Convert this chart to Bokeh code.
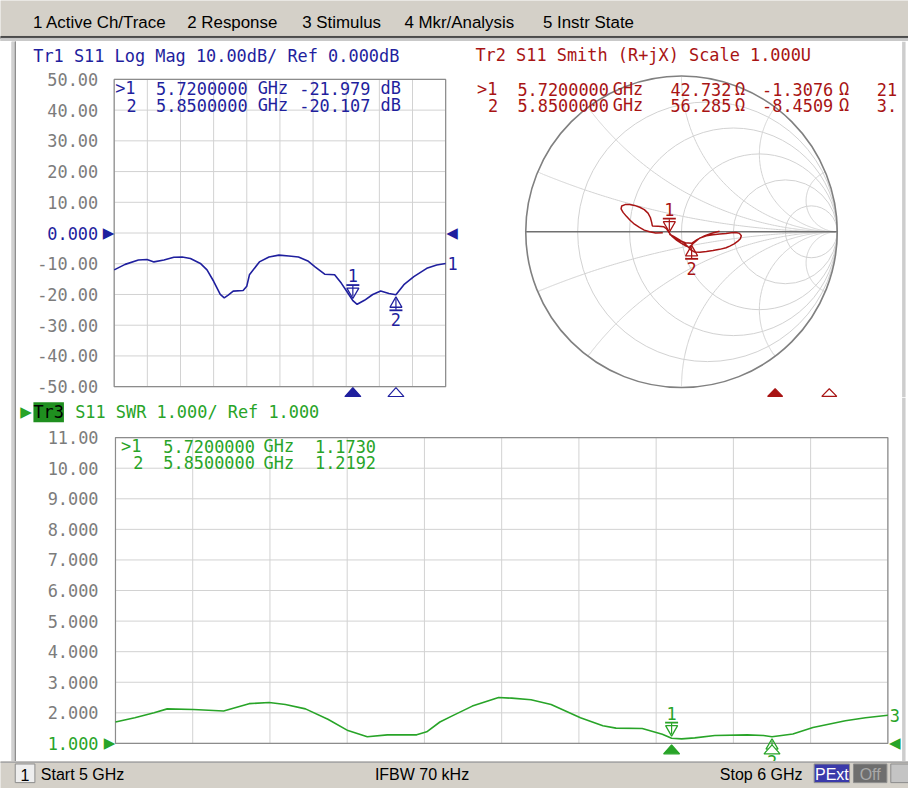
import numpy as np
from bokeh.plotting import figure
from bokeh.models import Range1d, Label
from bokeh.core.properties import value
from bokeh.layouts import column, row
from bokeh.embed import file_html
from bokeh.resources import INLINE

# ---------------- data ----------------
freq_ticks = [5.0, 5.1, 5.2, 5.3, 5.4, 5.5, 5.6, 5.7, 5.8, 5.9, 6.0]
db_ticks = [50, 40, 30, 20, 10, 0, -10, -20, -30, -40, -50]
db_tick_labels = ["50.00", "40.00", "30.00", "20.00", "10.00", "0.000",
                  "-10.00", "-20.00", "-30.00", "-40.00", "-50.00"]
db_ref = 0
swr_ticks = [11, 10, 9, 8, 7, 6, 5, 4, 3, 2, 1]
swr_tick_labels = ["11.00", "10.00", "9.000", "8.000", "7.000", "6.000",
                   "5.000", "4.000", "3.000", "2.000", "1.000"]
swr_ref = 1

freq_db = [5.000, 5.033, 5.073, 5.099, 5.120, 5.150, 5.180, 5.205, 5.230, 5.260,
           5.280, 5.300, 5.320, 5.332, 5.344, 5.359, 5.389, 5.400, 5.408, 5.438,
           5.467, 5.497, 5.527, 5.556, 5.586, 5.606, 5.635, 5.665, 5.685, 5.705,
           5.720, 5.733, 5.755, 5.780, 5.804, 5.829, 5.850, 5.874, 5.904, 5.943,
           5.973, 6.000]
s11_db = [-12.0, -10.2, -8.8, -8.6, -9.4, -8.8, -7.9, -7.8, -8.3, -9.9,
          -12.0, -15.7, -20.0, -21.1, -20.2, -18.9, -18.7, -17.3, -13.6, -9.4,
          -7.8, -7.2, -7.5, -7.8, -9.2, -11.0, -13.4, -13.6, -16.3, -19.5,
          -21.98, -23.2, -21.9, -20.0, -18.9, -19.7, -20.1, -16.8, -14.2, -11.5,
          -10.4, -9.9]

freq_swr = [5.000, 5.025, 5.050, 5.067, 5.101, 5.140, 5.173, 5.199, 5.220, 5.246,
            5.275, 5.301, 5.326, 5.352, 5.390, 5.403, 5.420, 5.436, 5.462, 5.496,
            5.513, 5.538, 5.564, 5.602, 5.631, 5.648, 5.682, 5.708, 5.720, 5.733,
            5.750, 5.776, 5.818, 5.839, 5.850, 5.877, 5.903, 5.945, 5.971, 6.000]
swr = [1.70, 1.84, 2.00, 2.13, 2.11, 2.06, 2.30, 2.34, 2.27, 2.13,
       1.79, 1.42, 1.22, 1.28, 1.28, 1.38, 1.70, 1.90, 2.22, 2.50,
       2.48, 2.43, 2.27, 1.84, 1.58, 1.50, 1.49, 1.30, 1.17, 1.15,
       1.18, 1.26, 1.28, 1.26, 1.22, 1.31, 1.52, 1.74, 1.84, 1.92]

smith_re = [-0.120, -0.166, -0.205, -0.239, -0.270, -0.302, -0.330, -0.355, -0.375, -0.388,
            -0.384, -0.362, -0.332, -0.302, -0.268, -0.239, -0.215, -0.200, -0.192, -0.187,
            -0.150, -0.113, -0.095, -0.080, -0.060, -0.030, 0.000, 0.030, 0.050,
            0.075, 0.118, 0.160, 0.202, 0.245, 0.286, 0.320, 0.350, 0.372, 0.384,
            0.378, 0.362, 0.338, 0.310, 0.286, 0.245, 0.202, 0.160, 0.118, 0.085,
            0.062, 0.045, 0.020, -0.015, -0.050, -0.078, -0.045, -0.010, 0.025, 0.065,
            0.100, 0.150, 0.200, 0.244]
smith_im = [-0.006, -0.008, 0.000, 0.011, 0.028, 0.049, 0.074, 0.101, 0.125, 0.148,
            0.166, 0.175, 0.176, 0.170, 0.158, 0.143, 0.120, 0.092, 0.062, 0.038,
            0.035, 0.032, 0.018, -0.005, -0.030, -0.055, -0.075, -0.092, -0.100,
            -0.075, -0.040, -0.026, -0.019, -0.014, -0.011, -0.006, -0.004, -0.010, -0.025,
            -0.045, -0.060, -0.078, -0.092, -0.103, -0.113, -0.121, -0.127, -0.131, -0.130,
            -0.118, -0.100, -0.075, -0.050, -0.030, -0.015, -0.038, -0.058, -0.070, -0.074,
            -0.050, -0.025, -0.008, 0.004]

marker_names = [">1", "2"]
marker_freq = [5.72, 5.85]
marker_db = [-21.979, -20.107]
marker_swr = [1.1730, 1.2192]
marker_r_ohm = [42.732, 56.285]
marker_x_ohm = [-1.3076, -8.4509]
smith_cut_col = ["21", "3."]
z0 = 50.0

smith_r_grid = [0.2, 0.5, 1.0, 2.0, 5.0]
smith_x_grid = [0.2, 0.5, 1.0, 2.0, 5.0]

menu_items = ["1 Active Ch/Trace", "2 Response", "3 Stimulus", "4 Mkr/Analysis", "5 Instr State"]

# ---------------- style ----------------
MONO = "DejaVu Sans Mono"
SYM = "DejaVu Sans"
UI = "Liberation Sans"
FS = 16.9
BLUE = "#1f1f9e"
RED = "#a81414"
GREEN = "#28a428"
GRAYTXT = "#7c7c7c"
GRID = "#d2d2d2"
FRAME = "#8c8c8c"
UIBG = "#d4d0c8"

# reference-picture pixels -> layout pixels
SX, SY = 908 / 924, 788 / 804


def LX(x):
    return x * SX


def LY(y):
    return y * SY


def mapped(x0, y0, w, h, box, xlim, ylim):
    """Ranges so that xlim/ylim land on the reference box (left, right, top, bottom)."""
    bl, br = LX(box[0]) - x0, LX(box[1]) - x0
    bt, bb = LY(box[2]) - y0, LY(box[3]) - y0
    kx = (xlim[1] - xlim[0]) / (br - bl)
    ky = (ylim[1] - ylim[0]) / (bb - bt)
    return (Range1d(xlim[0] - bl * kx, xlim[1] + (w - br) * kx),
            Range1d(ylim[0] - (h - bb) * ky, ylim[1] + bt * ky))


def make_fig(w, h, xr, yr, bg="white"):
    p = figure(width=w, height=h, x_range=xr, y_range=yr, title=None,
               output_backend="svg", toolbar_location=None,
               x_axis_location=None, y_axis_location=None, min_border=0,
               min_border_left=0, min_border_right=0, min_border_top=0, min_border_bottom=0)
    p.grid.visible = False
    p.outline_line_color = None
    p.background_fill_color = bg
    p.border_fill_color = bg
    return p


def lab(p, x, y, text, color, size=FS, font=MONO, align="left", baseline="middle",
        xu="screen", yu="screen", xo=0, yo=0, xr="default", **kw):
    p.add_layout(Label(x=x, y=y, x_units=xu, y_units=yu, x_offset=xo, y_offset=yo,
                       text=text, text_color=color, text_font=font,
                       text_font_size=f"{size}px", text_align=align,
                       text_baseline=baseline, x_range_name=xr, **kw))


class Panel:
    def __init__(self, x0, y0, w, h, xr, yr):
        self.x0, self.y0, self.w, self.h = x0, y0, w, h
        self.p = make_fig(w, h, xr, yr)

    def sx(self, rx):
        return LX(rx) - self.x0

    def sy(self, ry):
        return self.y0 + self.h - LY(ry)

    def ky(self):
        return (self.p.y_range.end - self.p.y_range.start) / self.h

    def kx(self, xr="default"):
        r = self.p.x_range if xr == "default" else self.p.extra_x_ranges[xr]
        return (r.end - r.start) / self.w

    def xdata(self, rx):
        return self.p.x_range.start + (LX(rx) - self.x0) * self.kx()

    def ydata(self, ry):
        return self.p.y_range.end - (LY(ry) - self.y0) * self.ky()

    def text(self, rx, ry, text, color, **kw):
        lab(self.p, self.sx(rx), self.sy(ry), text, color, **kw)

    def vband(self, rx0, rx1, color):
        self.p.quad(left=[self.xdata(rx0)], right=[self.xdata(rx1)],
                    bottom=[self.p.y_range.start], top=[self.p.y_range.end],
                    fill_color=color, line_color=None)


def box_grid(p, xt, yt, labels, ref, color, standoff):
    ylo, yhi = min(yt), max(yt)
    xs = [[x, x] for x in xt] + [[xt[0], xt[-1]] for _ in yt]
    ys = [[ylo, yhi] for _ in xt] + [[y, y] for y in yt]
    p.multi_line(xs, ys, line_color=GRID, line_width=1)
    p.quad(left=[xt[0]], right=[xt[-1]], bottom=[ylo], top=[yhi],
           fill_color=None, line_color=FRAME, line_width=1.2)
    cols = [color if t == ref else GRAYTXT for t in yt]
    p.text(x=[xt[0]] * len(yt), y=yt, text=labels, x_offset=-standoff,
           text_align="right", text_baseline="middle", text_color=cols,
           text_font=value(MONO), text_font_size=value(f"{FS}px"))


def draw_marker(panel, x, y, i, color, xr="default"):
    """Marker flag: active one sits above the trace, the other below it."""
    k = panel.ky()
    s = 1 if i == 0 else -1
    tri = "inverted_triangle" if i == 0 else "triangle"
    panel.p.scatter([x], [y + s * 9.0 * k], marker=tri, size=12, fill_color=None,
                    line_color=color, line_width=1.3, x_range_name=xr)
    panel.p.scatter([x], [y + s * 9.5 * k], marker="dash", angle=np.pi / 2, size=11,
                    line_color=color, line_width=1.2, x_range_name=xr)
    panel.p.scatter([x], [y + s * 15.5 * k], marker="dash", size=13,
                    line_color=color, line_width=1.8, x_range_name=xr)
    lab(panel.p, x, y, str(i + 1), color, align="center", xu="data", yu="data",
        yo=s * 25, xr=xr)


def stim_marks(panel, ry, color, xr="default", half_w=8.0, half_h=4.5):
    """Flat stimulus triangles under the grid: filled for the active marker."""
    yc = panel.ydata(ry)
    ky, kx = panel.ky(), panel.kx(xr)
    for i, f in enumerate(marker_freq):
        xs = [f - half_w * kx, f + half_w * kx, f]
        ys = [yc - half_h * ky, yc - half_h * ky, yc + half_h * ky]
        panel.p.patch(xs, ys, fill_color=color if i == 0 else "white",
                      line_color=color, line_width=1.2, x_range_name=xr)


# ---------------- layout geometry (layout px) ----------------
W = 908
MENU_H = 41
BODY_Y = MENU_H
STRIP_W = 16
TOP_H = 356
PANEL_W = 446
SW_Y = BODY_Y + TOP_H       # 397
SW_H = 364
ST_Y = SW_Y + SW_H          # 761
ST_H = 788 - ST_Y           # 27

# ================= menu bar =================
menu = make_fig(W, MENU_H, Range1d(0, W), Range1d(MENU_H, 0), bg=UIBG)
menu.quad(left=[0], right=[W], top=[LY(36.7)], bottom=[LY(38.7)], color="#4a4a4a")
menu.quad(left=[0], right=[W], top=[LY(38.7)], bottom=[MENU_H], color="#c9c9c9")
for t, x in zip(menu_items, [33, 190, 307, 411, 552]):
    lab(menu, LX(x), LY(22.5), t, "#000000", size=16.9, font=UI, xu="data", yu="data")

# ================= left strip =================
strip = make_fig(STRIP_W, SW_H + TOP_H, Range1d(0, STRIP_W), Range1d(0, 1))
strip.quad(left=[LX(11.5)], right=[LX(15)], top=[1], bottom=[0], color="#d0d0d0")
strip.quad(left=[LX(15)], right=[STRIP_W], top=[1], bottom=[0], color="#8a8a8a")

# ================= Tr1 log mag =================
LM_BOX = (115.7, 453.0, 80.5, 394.0)
xr, yr = mapped(STRIP_W, BODY_Y, PANEL_W, TOP_H, LM_BOX,
                (freq_ticks[0], freq_ticks[-1]), (min(db_ticks), max(db_ticks)))
lm = Panel(STRIP_W, BODY_Y, PANEL_W, TOP_H, xr, yr)
box_grid(lm.p, freq_ticks, db_ticks, db_tick_labels, db_ref, BLUE, 16)
lm.p.line(freq_db, s11_db, line_color=BLUE, line_width=1.6)

lm.text(33.3, 56.7, "Tr1 S11 Log Mag 10.00dB/ Ref 0.000dB", BLUE)
for i, (ry, tx) in enumerate(zip([89.3, 106.7], [116.7, 128.3])):
    lm.text(tx, ry, marker_names[i], BLUE)
    lm.text(158.3, ry, f"{marker_freq[i]:.7f}", BLUE)
    lm.text(261.7, ry, "GHz", BLUE)
    lm.text(304.0, ry, f"{marker_db[i]:.3f}", BLUE)
    lm.text(386.7, ry, "dB", BLUE)
lab(lm.p, lm.sx(110), db_ref, "\u25b6", BLUE, size=15, font=SYM, align="center", yu="data")
lab(lm.p, lm.sx(459.5), db_ref, "\u25c0", BLUE, size=15, font=SYM, align="center", yu="data")
lab(lm.p, lm.sx(455), s11_db[-1], "1", BLUE, yu="data")
for i in range(2):
    draw_marker(lm, marker_freq[i], marker_db[i], i, BLUE)
stim_marks(lm, 399.5, BLUE)

# ================= Tr2 Smith =================
CX, CY, RAD = 693.0, 236.0, 158.5
SM_X = STRIP_W + PANEL_W
xr, yr = mapped(SM_X, BODY_Y, PANEL_W, TOP_H, (CX - RAD, CX + RAD, CY - RAD, CY + RAD), (-1, 1), (-1, 1))
sm = Panel(SM_X, BODY_Y, PANEL_W, TOP_H, xr, yr)
stim_r, _ = mapped(SM_X, BODY_Y, PANEL_W, TOP_H, (483.0, 907.0, 0, 1),
                   (freq_ticks[0], freq_ticks[-1]), (0, 1))
sm.p.extra_x_ranges = {"stim": stim_r}
sm.vband(917.5, 921.0, "#cdcdcd")

rr = np.concatenate([[0.0], np.logspace(-3, 4, 500)])
arc_x, arc_y = [], []
for xv in smith_x_grid:
    for s in (1, -1):
        z = rr + 1j * s * xv
        g = (z - 1) / (z + 1)
        arc_x.append(g.real.tolist())
        arc_y.append(g.imag.tolist())
sm.p.multi_line(arc_x, arc_y, line_color=GRID, line_width=1)
for rv in smith_r_grid:
    sm.p.circle(x=[rv / (1 + rv)], y=[0], radius=1 / (1 + rv), fill_color=None,
                line_color=GRID, line_width=1)
sm.p.line([-1, 1], [0, 0], line_color="#707070", line_width=1.5)
sm.p.circle(x=[0], y=[0], radius=1, fill_color=None, line_color="#808080", line_width=1.6)
sm.p.line(smith_re, smith_im, line_color=RED, line_width=1.5)

sm.text(483.3, 56.0, "Tr2 S11 Smith (R+jX) Scale 1.000U", RED)
for i, (ry, tx) in enumerate(zip([90.8, 106.8], [485.0, 496.0])):
    sm.text(tx, ry, marker_names[i], RED)
    sm.text(526.0, ry, f"{marker_freq[i]:.7f}", RED)
    sm.text(623.0, ry, "GHz", RED)
    sm.text(681.7, ry, f"{marker_r_ohm[i]:.3f}", RED)
    sm.text(747.5, ry, "\u03a9", RED)
    sm.text(775.0, ry, f"{marker_x_ohm[i]:.4f}", RED)
    sm.text(853.3, ry, "\u03a9", RED)
    sm.text(891.7, ry, smith_cut_col[i], RED)
for i in range(2):
    zn = complex(marker_r_ohm[i], marker_x_ohm[i]) / z0
    gm = (zn - 1) / (zn + 1)
    draw_marker(sm, gm.real, gm.imag, i, RED)
stim_marks(sm, 400, RED, xr="stim", half_w=7.5, half_h=3.8)

# ================= Tr3 SWR =================
SW_BOX = (117.0, 903.0, 446.0, 758.0)
xr, yr = mapped(STRIP_W, SW_Y, W - STRIP_W, SW_H, SW_BOX,
                (freq_ticks[0], freq_ticks[-1]), (min(swr_ticks), max(swr_ticks)))
sw = Panel(STRIP_W, SW_Y, W - STRIP_W, SW_H, xr, yr)
sw.vband(917.5, 921.0, "#cdcdcd")
box_grid(sw.p, freq_ticks, swr_ticks, swr_tick_labels, swr_ref, GREEN, 17)
sw.p.line(freq_swr, swr, line_color=GREEN, line_width=1.6)

sw.text(26, 420, "\u25b6", GREEN, size=15, font=SYM, align="center")
sw.text(33.5, 420, "Tr3", "#000000", background_fill_color="#1f8f1f")
sw.text(76, 420, "S11 SWR 1.000/ Ref 1.000", GREEN)
for i, (ry, tx) in enumerate(zip([455.0, 471.7], [122.7, 135.0])):
    sw.text(tx, ry, marker_names[i], GREEN)
    sw.text(165.7, ry, f"{marker_freq[i]:.7f}", GREEN)
    sw.text(267.7, ry, "GHz", GREEN)
    sw.text(320.0, ry, f"{marker_swr[i]:.4f}", GREEN)
lab(sw.p, sw.sx(111), swr_ref, "\u25b6", GREEN, size=15, font=SYM, align="center", yu="data")
lab(sw.p, sw.sx(910), swr_ref, "\u25c0", GREEN, size=15, font=SYM, align="center", yu="data")
lab(sw.p, sw.sx(905), swr[-1], "3", GREEN, yu="data")
for i in range(2):
    draw_marker(sw, marker_freq[i], marker_swr[i], i, GREEN)
stim_marks(sw, 764, GREEN)

# ================= status bar =================
st = make_fig(W, ST_H, Range1d(0, W), Range1d(ST_H, 0), bg=UIBG)


def sty(ry):
    return LY(ry) - ST_Y


st.quad(left=[0], right=[W], top=[0], bottom=[1], color="#a8a8a8")
st.quad(left=[LX(15)], right=[LX(35)], top=[sty(779)], bottom=[sty(798)],
        fill_color="#eeeeee", line_color="#8c8c8c")
for x, t in [(41, "Start 5 GHz"), (381, "IFBW 70 kHz"), (732, "Stop 6 GHz")]:
    lab(st, LX(x), sty(790), t, "#000000", size=16.0, font=UI, xu="data", yu="data")
lab(st, LX(25), sty(790), "1", "#000000", size=16.0, font=UI, align="center", xu="data", yu="data")
st.quad(left=[LX(828)], right=[LX(864)], top=[sty(779)], bottom=[sty(798)],
        fill_color="#3a3aaa", line_color="#8c8c8c")
lab(st, LX(846), sty(790), "PExt", "#ffffff", size=16.0, font=UI, align="center", xu="data", yu="data")
st.quad(left=[LX(868)], right=[LX(902)], top=[sty(779)], bottom=[sty(798)],
        fill_color="#6e6e6e", line_color="#8c8c8c")
lab(st, LX(885), sty(790), "Off", "#a8a8a8", size=16.0, font=UI, align="center", xu="data", yu="data")
st.quad(left=[LX(906)], right=[W], top=[sty(779)], bottom=[sty(798)],
        fill_color="#c4c4c4", line_color="#8c8c8c")

page = column(menu, row(strip, column(row(lm.p, sm.p), sw.p)), st)
open("out.html", "w").write(file_html(page, INLINE, title="S11"))
